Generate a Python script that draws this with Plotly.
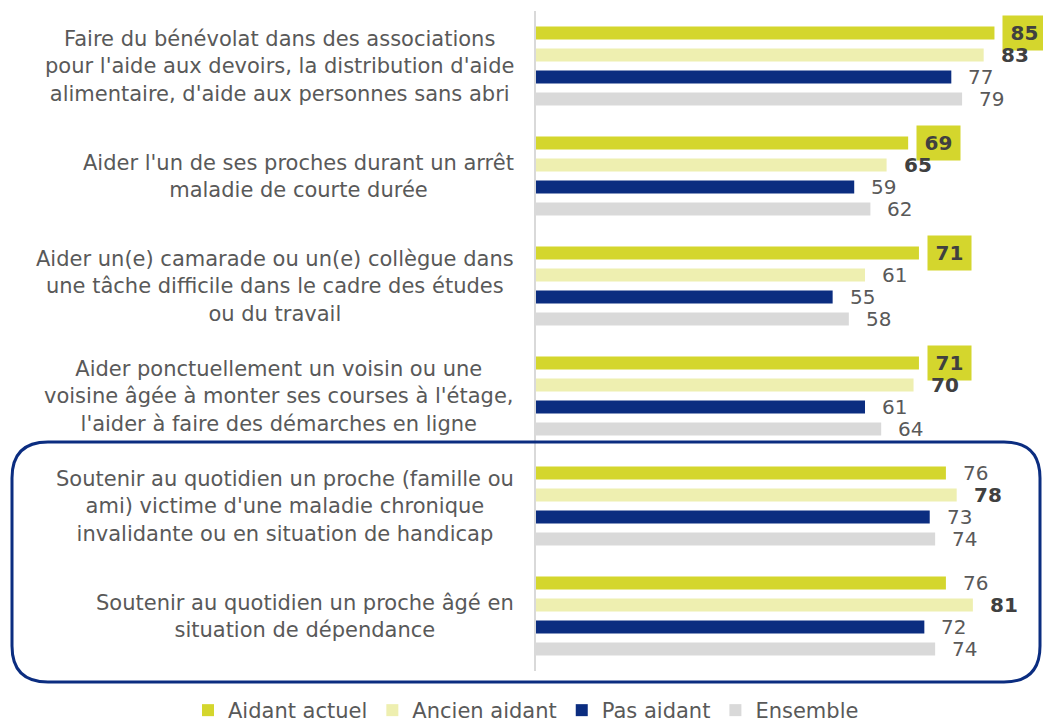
import plotly.graph_objects as go

# ------------------------------
# DATA
# ------------------------------
categories = [
    "Faire du bénévolat dans des associations<br>pour l'aide aux devoirs, la distribution d'aide<br>alimentaire, d'aide aux personnes sans abri",
    "Aider l'un de ses proches durant un arrêt<br>maladie de courte durée",
    "Aider un(e) camarade ou un(e) collègue dans<br>une tâche difficile dans le cadre des études<br>ou du travail",
    "Aider ponctuellement un voisin ou une<br>voisine âgée à monter ses courses à l'étage,<br>l'aider à faire des démarches en ligne",
    "Soutenir au quotidien un proche (famille ou<br>ami) victime d'une maladie chronique<br>invalidante ou en situation de handicap",
    "Soutenir au quotidien un proche âgé en<br>situation de dépendance",
]
series_names = ["Aidant actuel", "Ancien aidant", "Pas aidant", "Ensemble"]
aidant_actuel = [85, 69, 71, 71, 76, 76]
ancien_aidant = [83, 65, 61, 70, 78, 81]
pas_aidant = [77, 59, 55, 61, 73, 72]
ensemble = [79, 62, 58, 64, 74, 74]

# emphasis of the value labels: "box" = bold on a tag, "bold" = bold only
aidant_actuel_emph = ["box", "box", "box", "box", "", ""]
ancien_aidant_emph = ["bold", "bold", "", "bold", "bold", "bold"]
pas_aidant_emph = ["", "", "", "", "", ""]
ensemble_emph = ["", "", "", "", "", ""]

series = [aidant_actuel, ancien_aidant, pas_aidant, ensemble]
emphasis = [aidant_actuel_emph, ancien_aidant_emph, pas_aidant_emph, ensemble_emph]
colors = ["#D4D62D", "#EEEFB0", "#0B2D80", "#D9D9D9"]

FONT = "DejaVu Sans"
TXT = "#595959"
DARK = "#404040"

W, H = 1043, 728
L, R, T, B = 536, 0, 11, 57

fig = go.Figure()

for name, vals, col in zip(series_names, series, colors):
    fig.add_trace(go.Bar(y=categories, x=vals, name=name, orientation="h",
                         marker=dict(color=col, line=dict(width=0))))

# ------------------------------
# VALUE LABELS
# ------------------------------
band = (H - T - B) / len(categories)
slot = band * 0.8 / len(series)
for i, (vals, emph) in enumerate(zip(series, emphasis)):
    yshift = slot * (len(series) - 1) / 2 - slot * i
    for cat, v, e in zip(categories, vals, emph):
        if e == "box":
            fig.add_annotation(x=v, y=cat, text=f"<b>{v}</b>", showarrow=False,
                               xanchor="left", xshift=8, yshift=yshift,
                               width=35, height=26,
                               bgcolor=colors[0], borderpad=4,
                               font=dict(family=FONT, size=20, color=DARK))
        else:
            txt = f"<b>{v}</b>" if e == "bold" else str(v)
            fig.add_annotation(x=v, y=cat, text=txt, showarrow=False,
                               xanchor="left", xshift=15, yshift=yshift,
                               font=dict(family=FONT, size=20,
                                         color=DARK if e == "bold" else TXT))

# category labels, centred lines
for cat in categories:
    fig.add_annotation(x=0, xref="paper", y=cat, text=cat, showarrow=False,
                       xanchor="right", xshift=-20, align="center",
                       font=dict(family=FONT, size=21, color=TXT))

# ------------------------------
# ROUNDED FRAME AROUND THE LAST TWO ITEMS
# ------------------------------
pw, ph = W - L - R, H - T - B
def px(x): return (x - L) / pw
def py(y): return (H - B - y) / ph
x0, x1, y0, y1 = px(12), px(1040), py(682), py(442)
rx, ry = 36 / pw, 36 / ph
path = (f"M{x0+rx},{y1} L{x1-rx},{y1} Q{x1},{y1} {x1},{y1-ry} "
        f"L{x1},{y0+ry} Q{x1},{y0} {x1-rx},{y0} L{x0+rx},{y0} "
        f"Q{x0},{y0} {x0},{y0+ry} L{x0},{y1-ry} Q{x0},{y1} {x0+rx},{y1} Z")
fig.add_shape(type="path", path=path, xref="paper", yref="paper",
              line=dict(color="#0B2D80", width=3))

fig.update_layout(
    width=W, height=H,
    margin=dict(l=L, r=R, t=T, b=B, autoexpand=False),
    barmode="group", bargap=0.2, bargroupgap=0.4,
    plot_bgcolor="white", paper_bgcolor="white",
    font=dict(family=FONT, size=21, color=TXT),
    xaxis=dict(range=[0, 94], visible=False),
    yaxis=dict(autorange="reversed", showticklabels=False, showgrid=False,
               showline=True, linecolor="#D9D9D9", linewidth=2, ticks=""),
    legend=dict(orientation="h", x=px(188), xanchor="left", y=py(690), yanchor="top",
                font=dict(family=FONT, size=21, color=TXT), itemwidth=30),
    showlegend=True,
)

# drop the default 8px page margin so the figure fills the window exactly
fig.write_html("out.html", config={"displayModeBar": False},
               post_script="document.body.style.margin = '0';")
